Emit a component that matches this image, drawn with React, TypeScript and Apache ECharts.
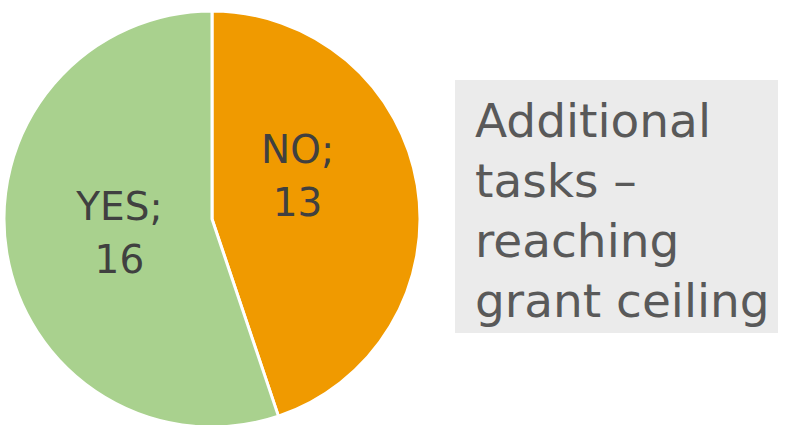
import React, { useEffect, useRef } from "react";
import * as echarts from "echarts";

const categories = ["NO", "YES"];
const values = [13, 16];
const colors = ["#F09A00", "#A9D18E"];
const titleLines = ["Additional", "tasks –", "reaching", "grant ceiling"];

export default function App() {
  const ref = useRef<HTMLDivElement>(null);
  useEffect(() => {
    const chart = echarts.init(ref.current!, null, { renderer: "svg" });
    chart.setOption({
      animation: false,
      series: [
        {
          type: "pie",
          center: [212, 219],
          radius: [0, 208],
          startAngle: 90,
          clockwise: true,
          silent: true,
          itemStyle: { borderColor: "#FFFFFF", borderWidth: 3 },
          label: {
            show: true,
            position: "inside",
            formatter: "{b};\n{c}",
            fontFamily: "DejaVu Sans",
            fontSize: 39,
            lineHeight: 53,
            color: "#404040",
          },
          labelLine: { show: false },
          data: categories.map((c, i) => ({
            name: c,
            value: values[i],
            itemStyle: { color: colors[i] },
            label: i === 0 ? { offset: [-20, -26] } : { offset: [13, -3] },
          })),
        },
      ],
      graphic: [
        {
          type: "rect",
          shape: { x: 455, y: 80, width: 323, height: 253 },
          style: { fill: "#EBEBEB" },
        },
        {
          type: "text",
          x: 475,
          y: 210,
          style: {
            text: titleLines.join("\n"),
            fontFamily: "DejaVu Sans",
            fontSize: 47,
            lineHeight: 60,
            fill: "#595959",
            verticalAlign: "middle",
            align: "left",
          },
        },
      ],
    });
    return () => chart.dispose();
  }, []);
  return <div ref={ref} style={{ width: 791, height: 425, position: "absolute", left: 0, top: 0 }} />;
}
